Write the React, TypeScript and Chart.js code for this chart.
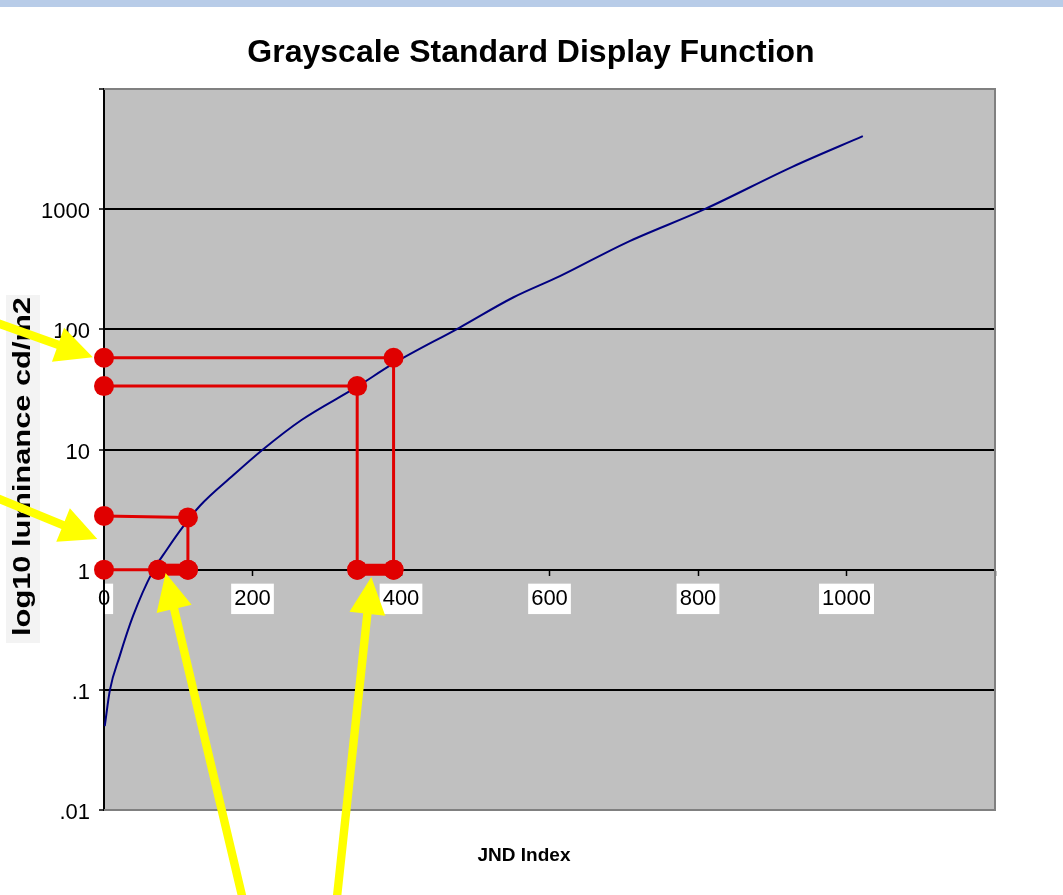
import React, { useEffect, useRef } from 'react';
import { Chart, registerables } from 'chart.js';

Chart.register(...registerables);

// ---- Data ----
const TITLE = 'Grayscale Standard Display Function';
const X_TITLE = 'JND Index';
const Y_TITLE = 'log10 luminance cd/m2';

// GSDF curve: JND index vs luminance (cd/m2)
const CURVE_JND = [1, 8, 21, 39, 65, 85, 106, 129, 174, 214, 266, 340, 390, 479, 551, 614, 703, 809, 927, 1022];
const CURVE_LUM = [0.05, 0.1, 0.19, 0.41, 0.95, 1.48, 2.26, 3.39, 6.1, 10, 17.6, 33, 52, 103.5, 184, 277, 525, 1000, 2250, 4050];

// Red construction lines (JND, luminance)
const PATH_A_JND = [0, 390, 390];
const PATH_A_LUM = [58, 58, 1];
const PATH_B_JND = [0, 341, 341];
const PATH_B_LUM = [33.7, 33.7, 1];
const PATH_C_JND = [0, 113, 113];
const PATH_C_LUM = [2.8, 2.72, 1];
const PATH_D_JND = [0, 73];
const PATH_D_LUM = [1, 1];
const BAR_LOW_JND = [73, 113];
const BAR_HIGH_JND = [341, 390];
const BAR_LUM = [1, 1];

// Axis ticks
const Y_TICKS = [0.01, 0.1, 1, 10, 100, 1000, 10000];
const Y_TICK_LABELS = ['.01', '.1', '1', '10', '100', '1000', ''];
const X_MIN = 0;
const X_MAX = 1200;
const X_STEP = 200;
const X_TICK_LABELS = ['0', '200', '400', '600', '800', '1000', ''];

// Yellow annotation arrows (data coordinates: tail -> tip)
const ARROW_TAIL_JND = [-151, -151, 188, 313];
const ARROW_TAIL_LUM = [117, 4.1, 0.0017, 0.0017];
const ARROW_TIP_JND = [-15, -9, 83, 360];
const ARROW_TIP_LUM = [58.6, 1.8, 0.94, 0.87];

const RED = '#e00000';
const NAVY = '#000080';
const FONT = '"Liberation Sans", Arial, sans-serif';

const toPts = (xs: number[], ys: number[]) => xs.map((x, i) => ({ x, y: ys[i] }));

const decorPlugin = {
  id: 'decor',
  beforeDraw(chart: any) {
    const { ctx, chartArea: a } = chart;
    ctx.save();
    ctx.fillStyle = '#ffffff';
    ctx.fillRect(0, 0, chart.width, chart.height);
    ctx.fillStyle = '#b8cce8';
    ctx.fillRect(0, 0, chart.width, 7);
    ctx.fillStyle = '#c0c0c0';
    ctx.fillRect(a.left, a.top, a.right - a.left, a.bottom - a.top);
    ctx.restore();
  },
  beforeDatasetsDraw(chart: any) {
    const { ctx, chartArea: a } = chart;
    ctx.save();
    ctx.strokeStyle = '#808080';
    ctx.lineWidth = 2;
    ctx.beginPath();
    ctx.moveTo(a.left, a.top);
    ctx.lineTo(a.right, a.top);
    ctx.lineTo(a.right, a.bottom);
    ctx.lineTo(a.left, a.bottom);
    ctx.stroke();
    ctx.restore();
  },
  afterDraw(chart: any) {
    const { ctx } = chart;
    const xs = chart.scales.x;
    const ys = chart.scales.y;
    ctx.save();
    // Chart title
    ctx.fillStyle = '#000';
    ctx.font = `bold 32px ${FONT}`;
    ctx.textAlign = 'center';
    ctx.textBaseline = 'alphabetic';
    ctx.fillText(TITLE, 531, 62);
    // X title
    ctx.font = `bold 19px ${FONT}`;
    ctx.textBaseline = 'middle';
    ctx.fillText(X_TITLE, 524, 856);
    // Y title (box + stretched rotated text)
    ctx.fillStyle = '#f3f3f3';
    ctx.fillRect(6, 295, 34, 348);
    ctx.fillStyle = '#000';
    ctx.font = `bold 23px ${FONT}`;
    const w = ctx.measureText(Y_TITLE).width;
    ctx.translate(30, 466.5);
    ctx.rotate(-Math.PI / 2);
    ctx.scale(339 / w, 1);
    ctx.textAlign = 'center';
    ctx.textBaseline = 'alphabetic';
    ctx.fillText(Y_TITLE, 0, 0);
    ctx.restore();

    // Yellow arrows
    ctx.save();
    ctx.fillStyle = '#ffff00';
    for (let i = 0; i < ARROW_TIP_JND.length; i++) {
      const tx = xs.getPixelForValue(ARROW_TAIL_JND[i]);
      const ty = ys.getPixelForValue(ARROW_TAIL_LUM[i]);
      const px = xs.getPixelForValue(ARROW_TIP_JND[i]);
      const py = ys.getPixelForValue(ARROW_TIP_LUM[i]);
      const dx = px - tx;
      const dy = py - ty;
      const len = Math.hypot(dx, dy);
      const ux = dx / len;
      const uy = dy / len;
      const nx = -uy;
      const ny = ux;
      const headLen = 37;
      const headHalf = 18;
      const hw = 4.2;
      const bx = px - ux * headLen;
      const by = py - uy * headLen;
      ctx.beginPath();
      ctx.moveTo(tx + nx * hw, ty + ny * hw);
      ctx.lineTo(bx + nx * hw, by + ny * hw);
      ctx.lineTo(bx + nx * headHalf, by + ny * headHalf);
      ctx.lineTo(px, py);
      ctx.lineTo(bx - nx * headHalf, by - ny * headHalf);
      ctx.lineTo(bx - nx * hw, by - ny * hw);
      ctx.lineTo(tx - nx * hw, ty - ny * hw);
      ctx.closePath();
      ctx.fill();
    }
    ctx.restore();
  },
};

const redLine = (xs: number[], ys: number[], width = 3) => ({
  data: toPts(xs, ys),
  showLine: true,
  borderColor: RED,
  backgroundColor: RED,
  borderWidth: width,
  borderCapStyle: 'butt',
  pointRadius: 10,
  pointBackgroundColor: RED,
  pointBorderColor: RED,
  pointBorderWidth: 0,
  pointHoverRadius: 10,
  clip: false,
  order: 1,
});

export default function App() {
  const ref = useRef<HTMLCanvasElement>(null);
  useEffect(() => {
    if (!ref.current) return;
    const chart = new Chart(ref.current, {
      type: 'scatter',
      data: {
        datasets: [
          {
            label: 'GSDF',
            data: toPts(CURVE_JND, CURVE_LUM),
            showLine: true,
            borderColor: NAVY,
            borderWidth: 2,
            pointRadius: 0,
            cubicInterpolationMode: 'monotone',
            order: 10,
          } as any,
          redLine(PATH_A_JND, PATH_A_LUM),
          redLine(PATH_B_JND, PATH_B_LUM),
          redLine(PATH_C_JND, PATH_C_LUM),
          redLine(PATH_D_JND, PATH_D_LUM),
          redLine(BAR_LOW_JND, BAR_LUM, 12),
          redLine(BAR_HIGH_JND, BAR_LUM, 12),
        ],
      },
      options: {
        animation: false,
        responsive: false,
        devicePixelRatio: 1,
        events: [],
        layout: { padding: { left: 0, top: 89, right: 68, bottom: 85 } },
        plugins: {
          legend: { display: false },
          tooltip: { enabled: false },
          title: { display: false },
        },
        scales: {
          x: {
            type: 'linear',
            position: { y: 1 } as any,
            min: X_MIN,
            max: X_MAX,
            afterFit: (s: any) => {
              s.height = 0;
            },
            ticks: {
              stepSize: X_STEP,
              autoSkip: false,
              maxRotation: 0,
              color: '#000',
              font: { family: FONT, size: 22 },
              padding: 11,
              callback: (_v: any, i: number) => X_TICK_LABELS[i] ?? '',
              showLabelBackdrop: (c: any) => !!X_TICK_LABELS[c.index],
              backdropColor: '#ffffff',
              backdropPadding: { x: 3, y: 2 },
            } as any,
            grid: {
              drawOnChartArea: false,
              tickLength: 5,
              tickColor: '#000',
              tickWidth: 1.5,
            },
            border: { color: '#000', width: 2 },
          },
          y: {
            type: 'logarithmic',
            min: 0.01,
            max: 10000,
            afterBuildTicks: (s: any) => {
              s.ticks = Y_TICKS.map((v) => ({ value: v }));
            },
            afterFit: (s: any) => {
              s.width = 104;
            },
            ticks: {
              autoSkip: false,
              color: '#000',
              font: { family: FONT, size: 22 },
              padding: 9,
              labelOffset: 3,
              callback: (v: any) => {
                const idx = Y_TICKS.findIndex((t) => Math.abs(t - Number(v)) / t < 1e-6);
                return idx >= 0 ? Y_TICK_LABELS[idx] : '';
              },
            },
            grid: {
              color: (c: any) =>
                c.tick && (c.tick.value === 10000 || c.tick.value === 0.01) ? '#808080' : '#000',
              lineWidth: 2,
              tickLength: 5,
              tickColor: '#000',
              tickWidth: 1.5,
            },
            border: { color: '#000', width: 2 },
          },
        },
      } as any,
      plugins: [decorPlugin],
    });
    return () => chart.destroy();
  }, []);
  return (
    <div style={{ position: 'absolute', left: 0, top: 0, width: 1063, height: 895, background: '#fff' }}>
      <canvas ref={ref} width={1063} height={895} style={{ display: 'block' }} />
    </div>
  );
}
